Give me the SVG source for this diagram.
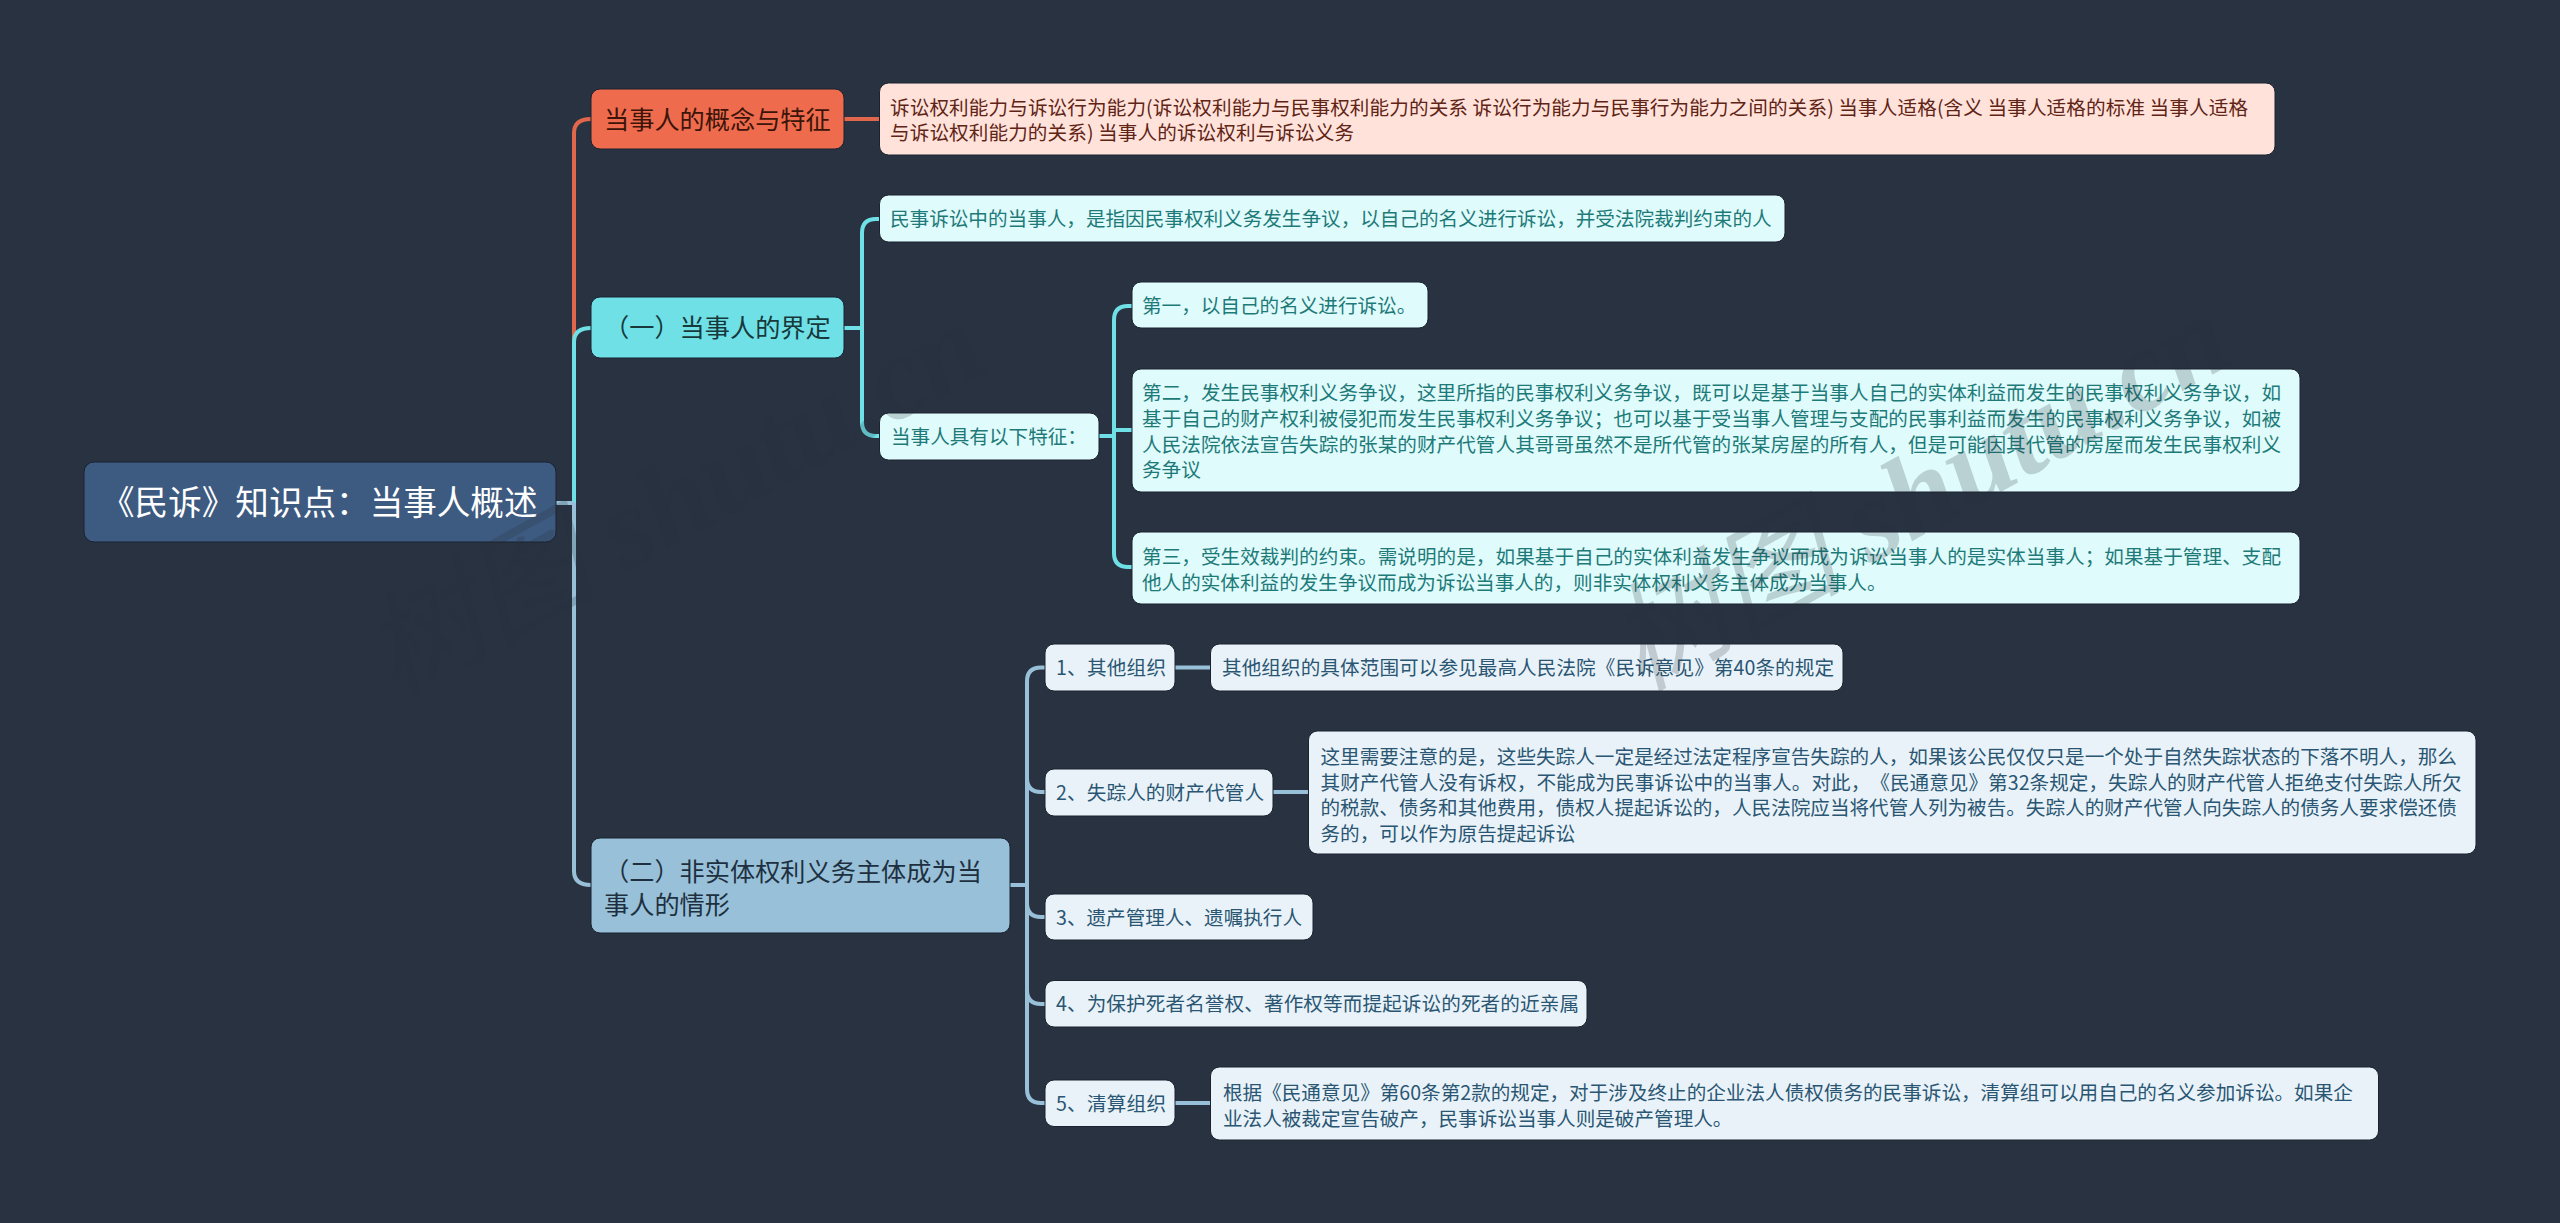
<svg xmlns="http://www.w3.org/2000/svg" width="2560" height="1223" viewBox="0 0 2560 1223">
<style>
text{font-family:"Noto Sans CJK SC","Noto Sans",sans-serif;font-size:19.6px;text-spacing-trim:space-all}
.c{fill:none;stroke-width:4;stroke-linecap:butt}
.r{stroke:#e0674b}.y{stroke:#6fe0e6}.b{stroke:#98c1d9}
rect{stroke:#1b2230;stroke-width:1}
.lp{fill:#ffe2da}.lc{fill:#e0fbfc}.lb{fill:#e9f2f8}
.tp{fill:#5f2415}.tc{fill:#1d7a78}.tb{fill:#2a5673}
.big{font-size:25.2px}
.wm{font-family:"Liberation Serif","Noto Sans CJK SC",serif;font-style:italic;font-weight:700;font-size:117px;fill:#272e3b;opacity:.2}
.wm tspan{font-weight:400}
</style>
<rect x="-1" y="-1" width="2562" height="1225" fill="#293241" style="stroke:none"/>
<g id="connectors">
<path class="c r" d="M574 503V133Q574 119 591 119"/>
<path class="c r" d="M844 119H880"/>
<path class="c y" d="M574 503V342Q574 328 591 328"/>
<path class="c y" d="M844 328H862M879 219H876Q862 219 862 233V422Q862 436 876 436H879"/>
<path class="c y" d="M1097 436H1114M1132 306H1128Q1114 306 1114 320V553Q1114 567 1128 567H1132M1114 430H1132"/>
<path class="c b" d="M574 503V871Q574 885 591 885M556 503H574"/>
<path class="c b" d="M1010 885H1027M1045 667.500H1041Q1027 667.500 1027 681.500V1089Q1027 1103 1041 1103H1045M1027 778Q1027 792 1041 792H1045M1027 903Q1027 917 1041 917H1045M1027 990Q1027 1004 1041 1004H1045"/>
<path class="c b" d="M1175 667.500H1211M1273 792H1309M1175 1103H1211"/>
</g>
<g id="root"><rect x="84" y="462" width="472" height="80" rx="10" fill="#3d5a80"/><text x="101" y="515" style="font-size:33.600px" fill="#fff">《民诉》知识点：当事人概述</text></g>
<g id="branch-1"><rect x="591" y="89" width="253" height="60" rx="9" fill="#ee6c4d"/><text class="big" x="604" y="128.500" fill="#3c1409">当事人的概念与特征</text></g>
<g id="branch-2"><rect x="591" y="297" width="253" height="61" rx="9" fill="#6fe0e6"/><text class="big" x="604" y="337" fill="#17393c">（一）当事人的界定</text></g>
<g id="branch-3"><rect x="591" y="838" width="419" height="95" rx="9" fill="#98c1d9"/><text class="big" x="604" y="880.500" fill="#1e3040">（二）非实体权利义务主体成为当</text><text class="big" x="604" y="913.500" fill="#1e3040">事人的情形</text></g>
<g id="n-rights"><rect class="lp" x="879.500" y="83" width="1395.500" height="72" rx="9"/><text class="tp" x="890" y="115.300" textLength="1358">诉讼权利能力与诉讼行为能力(诉讼权利能力与民事权利能力的关系 诉讼行为能力与民事行为能力之间的关系) 当事人适格(含义 当事人适格的标准 当事人适格</text><text class="tp" x="890" y="140.300" textLength="464">与诉讼权利能力的关系) 当事人的诉讼权利与诉讼义务</text></g>
<g id="n-def"><rect class="lc" x="879.500" y="195" width="905.500" height="47" rx="9"/><text class="tc" x="890" y="225.500">民事诉讼中的当事人，是指因民事权利义务发生争议，以自己的名义进行诉讼，并受法院裁判约束的人</text></g>
<g id="n-feat"><rect class="lc" x="879.500" y="413" width="219.500" height="47" rx="9"/><text class="tc" x="891" y="444">当事人具有以下特征：</text></g>
<g id="n-f1"><rect class="lc" x="1132" y="282" width="296" height="46" rx="9"/><text class="tc" x="1142" y="312.500">第一，以自己的名义进行诉讼。</text></g>
<g id="n-f2"><rect class="lc" x="1132" y="369" width="1168" height="123" rx="9"/><text class="tc" x="1142" y="400.300" textLength="1139">第二，发生民事权利义务争议，这里所指的民事权利义务争议，既可以是基于当事人自己的实体利益而发生的民事权利义务争议，如</text><text class="tc" x="1142" y="426" textLength="1139">基于自己的财产权利被侵犯而发生民事权利义务争议；也可以基于受当事人管理与支配的民事利益而发生的民事权利义务争议，如被</text><text class="tc" x="1142" y="451.700" textLength="1139">人民法院依法宣告失踪的张某的财产代管人其哥哥虽然不是所代管的张某房屋的所有人，但是可能因其代管的房屋而发生民事权利义</text><text class="tc" x="1142" y="477.400">务争议</text></g>
<g id="n-f3"><rect class="lc" x="1132" y="532" width="1168" height="72" rx="9"/><text class="tc" x="1142" y="564.300" textLength="1139">第三，受生效裁判的约束。需说明的是，如果基于自己的实体利益发生争议而成为诉讼当事人的是实体当事人；如果基于管理、支配</text><text class="tc" x="1142" y="589.800">他人的实体利益的发生争议而成为诉讼当事人的，则非实体权利义务主体成为当事人。</text></g>
<g id="n-s1"><rect class="lb" x="1045" y="644" width="130" height="47" rx="9"/><text class="tb" x="1056" y="675" textLength="110">1、其他组织</text></g>
<g id="n-s1a"><rect class="lb" x="1210.500" y="644" width="632.500" height="47" rx="9"/><text class="tb" x="1222" y="675" textLength="612">其他组织的具体范围可以参见最高人民法院《民诉意见》第40条的规定</text></g>
<g id="n-s2"><rect class="lb" x="1045" y="769" width="228" height="47" rx="9"/><text class="tb" x="1056" y="800" textLength="208">2、失踪人的财产代管人</text></g>
<g id="n-s2a"><rect class="lb" x="1308.500" y="731" width="1167.500" height="123" rx="9"/><text class="tb" x="1320.500" y="764.300">这里需要注意的是，这些失踪人一定是经过法定程序宣告失踪的人，如果该公民仅仅只是一个处于自然失踪状态的下落不明人，那么</text><text class="tb" x="1320.500" y="789.800" textLength="1141">其财产代管人没有诉权，不能成为民事诉讼中的当事人。对此，《民通意见》第32条规定，失踪人的财产代管人拒绝支付失踪人所欠</text><text class="tb" x="1320.500" y="815">的税款、债务和其他费用，债权人提起诉讼的，人民法院应当将代管人列为被告。失踪人的财产代管人向失踪人的债务人要求偿还债</text><text class="tb" x="1320.500" y="840.500">务的，可以作为原告提起诉讼</text></g>
<g id="n-s3"><rect class="lb" x="1045" y="894" width="268" height="46" rx="9"/><text class="tb" x="1056" y="924.500" textLength="246">3、遗产管理人、遗嘱执行人</text></g>
<g id="n-s4"><rect class="lb" x="1045" y="980.500" width="542" height="46.500" rx="9"/><text class="tb" x="1056" y="1011" textLength="523">4、为保护死者名誉权、著作权等而提起诉讼的死者的近亲属</text></g>
<g id="n-s5"><rect class="lb" x="1045" y="1080" width="130" height="46.500" rx="9"/><text class="tb" x="1056" y="1110.500" textLength="110">5、清算组织</text></g>
<g id="n-s5a"><rect class="lb" x="1210.500" y="1067" width="1168" height="73" rx="9"/><text class="tb" x="1223" y="1100">根据《民通意见》第60条第2款的规定，对于涉及终止的企业法人债权债务的民事诉讼，清算组可以用自己的名义参加诉讼。如果企</text><text class="tb" x="1223" y="1126">业法人被裁定宣告破产，民事诉讼当事人则是破产管理人。</text></g>
<g id="watermark">
<text class="wm" x="1640" y="692" transform="rotate(-29 1640 692)"><tspan>树图</tspan> shutu.cn</text>
<text class="wm" x="395" y="700" transform="rotate(-29 395 700)"><tspan>树图</tspan> shutu.cn</text>
</g>
</svg>
